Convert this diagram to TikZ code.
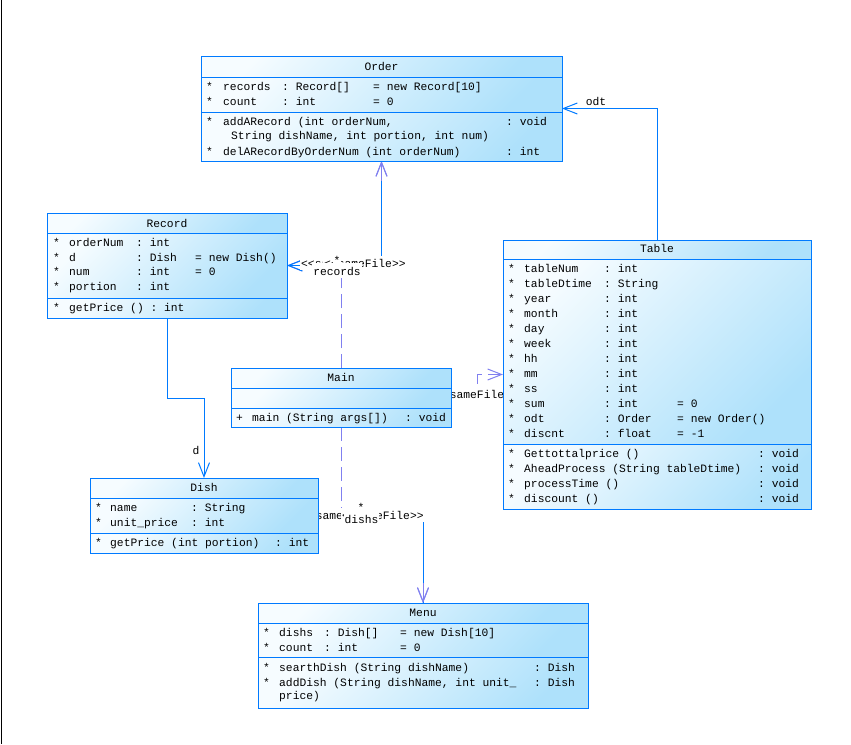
\documentclass[tikz,border=0pt]{standalone}
\usepackage{fontspec}
\setmonofont{Liberation Mono}
\usetikzlibrary{arrows.meta}
\definecolor{cborder}{RGB}{0,122,255}
\definecolor{cviolet}{RGB}{128,128,240}
\definecolor{cL}{RGB}{246,252,255}
\definecolor{cR}{RGB}{174,225,251}
\newcounter{tn}
\newcommand\T[3]{\stepcounter{tn}\node[txt] (t\arabic{tn}) at (#1,{#2+4}) {#3};}
\newcommand\Comp[4]{\shade[compfill] (#1,#2) rectangle (#3,#4);}
\newcommand\Sep[3]{\draw[sepline] (#1,#3) -- (#2,#3);}
\begin{document}
\begin{tikzpicture}[x=1pt,y=-1pt,
  mono/.style={font=\ttfamily\fontsize{11.3}{13}\selectfont},
  txt/.style={mono, inner sep=0pt, anchor=base west},
  ttl/.style={mono, inner sep=0pt, anchor=base},
  holder/.style={inner sep=0pt, outer sep=0pt, anchor=north west},
  framestyle/.style={draw=cborder, line width=1pt},
  compfill/.style={top color=cL, bottom color=cR, shading angle=45},
  sepline/.style={cborder, line width=1pt},
  tip/.style={-{Straight Barb[length=14pt,width=11pt]}},
  assoc/.style={cborder, line width=1pt, tip},
  dep/.style={cviolet, line width=1pt, dash pattern=on 14pt off 6pt, tip},
  deptip/.style={cviolet, line width=1pt, tip},
  lbl/.style={mono, fill=white, inner sep=1pt, text height=10pt, text depth=2pt},
  rlbl/.style={mono, fill=white, inner sep=1pt, text height=11.5pt, text depth=2pt}]
\useasboundingbox (0,0) rectangle (851,744);
\fill[white] (0,0) rectangle (851,744);
\draw[black, line width=1pt] (1.5,0) -- (1.5,744);

% class frames (placeholders)
\node[holder, minimum width=361pt, minimum height=105pt] (order) at (201,56) {};
\node[holder, minimum width=240pt, minimum height=105pt] (record) at (47,213) {};
\node[holder, minimum width=308pt, minimum height=269pt] (table) at (503,240) {};
\node[holder, minimum width=220pt, minimum height=59pt] (main) at (231,368) {};
\node[holder, minimum width=228pt, minimum height=75pt] (dish) at (90,478) {};
\node[holder, minimum width=330pt, minimum height=105pt] (menu) at (258,603) {};

% dependencies
\draw[dep] (main.north) |- (record.east);
\draw[dep] (main.north) |- (order.south |- record.east) -- (order.south);
\draw[dep] (main.south) |- (dish.east);
\draw[dep] (main.south) |- (menu.north |- dish.east) -- (menu.north);
\draw[dep] (main.east) -- ++(26,0) |- (table.west);

% associations
\draw[assoc] (table.north) |- (order.east);
\draw[assoc] (order.south) |- (record.east);
\draw[assoc] (record.south) -- ++(0,80) -| (dish.north);
\draw[assoc] (menu.north) |- (dish.east);
\draw[deptip] (order.south) ++(0,20) -- (order.south);
\draw[deptip] (menu.north) ++(0,-20) -- (menu.north);

% labels
\node[mono, inner sep=0pt, anchor=base] (lodt) at (596,105) {odt};
\node[mono, inner sep=0pt, anchor=base] (ld) at (196,454) {d};
\node[lbl, anchor=base west] (s1) at (300,267) {<<sameFile>>};
\node[lbl, anchor=base west] (s2) at (323,267) {<<sameFile>>};
\node[lbl, anchor=base] (m1) at (337,264) {*};
\node[rlbl, anchor=base] (r1) at (337,275) {records};
\node[lbl, anchor=base west] (s3) at (301,519) {<<sameFile>>};
\node[lbl, anchor=base west] (s4) at (341,519) {<<sameFile>>};
\node[lbl, anchor=base] (m2) at (361,511) {*};
\node[rlbl, anchor=base] (r2) at (361.5,523) {dishs};
\node[lbl, anchor=base] (s5) at (477,398) {<<sameFile>>};

% ---- Order
\Comp{201}{56}{562}{77}\Comp{201}{77}{562}{112}\Comp{201}{112}{562}{161}
\Sep{201}{562}{77}\Sep{201}{562}{112}
\draw[framestyle] (order.north west) rectangle (order.south east);
\node[ttl] (ordert) at (381.5,70) {Order};
\T{206}{86}{*}\T{223}{86}{records}\T{282}{86}{: Record[]}\T{373}{86}{= new Record[10]}
\T{206}{101}{*}\T{223}{101}{count}\T{282}{101}{: int}\T{373}{101}{= 0}
\T{206}{121}{*}\T{223}{121}{addARecord (int orderNum,}\T{506}{121}{: void}
\T{231}{135}{String dishName, int portion, int num)}
\T{206}{151}{*}\T{223}{151}{delARecordByOrderNum (int orderNum)}\T{506}{151}{: int}

% ---- Record
\Comp{47}{213}{287}{233}\Comp{47}{233}{287}{298}\Comp{47}{298}{287}{318}
\Sep{47}{287}{233}\Sep{47}{287}{298}
\draw[framestyle] (record.north west) rectangle (record.south east);
\node[ttl] (recordt) at (167,227) {Record};
\T{53}{242}{*}\T{69}{242}{orderNum}\T{136}{242}{: int}
\T{53}{257}{*}\T{69}{257}{d}\T{136}{257}{: Dish}\T{195}{257}{= new Dish()}
\T{53}{271}{*}\T{69}{271}{num}\T{136}{271}{: int}\T{195}{271}{= 0}
\T{53}{286}{*}\T{69}{286}{portion}\T{136}{286}{: int}
\T{53}{307}{*}\T{69}{307}{getPrice ()  : int}

% ---- Table
\Comp{503}{240}{811}{259}\Comp{503}{259}{811}{444}\Comp{503}{444}{811}{509}
\Sep{503}{811}{259}\Sep{503}{811}{444}
\draw[framestyle] (table.north west) rectangle (table.south east);
\node[ttl] (tablet) at (657,252) {Table};
\T{508}{268}{*}\T{524}{268}{tableNum}\T{604}{268}{: int}
\T{508}{283}{*}\T{524}{283}{tableDtime}\T{604}{283}{: String}
\T{508}{298}{*}\T{524}{298}{year}\T{604}{298}{: int}
\T{508}{313}{*}\T{524}{313}{month}\T{604}{313}{: int}
\T{508}{328}{*}\T{524}{328}{day}\T{604}{328}{: int}
\T{508}{343}{*}\T{524}{343}{week}\T{604}{343}{: int}
\T{508}{358}{*}\T{524}{358}{hh}\T{604}{358}{: int}
\T{508}{373}{*}\T{524}{373}{mm}\T{604}{373}{: int}
\T{508}{388}{*}\T{524}{388}{ss}\T{604}{388}{: int}
\T{508}{403}{*}\T{524}{403}{sum}\T{604}{403}{: int}\T{677}{403}{= 0}
\T{508}{418}{*}\T{524}{418}{odt}\T{604}{418}{: Order}\T{677}{418}{= new Order()}
\T{508}{433}{*}\T{524}{433}{discnt}\T{604}{433}{: float}\T{677}{433}{= -1}
\T{508}{453}{*}\T{524}{453}{Gettottalprice ()}\T{758}{453}{: void}
\T{508}{468}{*}\T{524}{468}{AheadProcess (String tableDtime)}\T{758}{468}{: void}
\T{508}{483}{*}\T{524}{483}{processTime ()}\T{758}{483}{: void}
\T{508}{498}{*}\T{524}{498}{discount ()}\T{758}{498}{: void}

% ---- Main
\Comp{231}{368}{451}{388}\Comp{231}{388}{451}{408}\Comp{231}{408}{451}{427}
\Sep{231}{451}{388}\Sep{231}{451}{408}
\draw[framestyle] (main.north west) rectangle (main.south east);
\node[ttl] (maint) at (341,381) {Main};
\T{236}{417}{+}\T{252}{417}{main (String args[])}\T{405}{417}{: void}

% ---- Dish
\Comp{90}{478}{318}{498}\Comp{90}{498}{318}{533}\Comp{90}{533}{318}{553}
\Sep{90}{318}{498}\Sep{90}{318}{533}
\draw[framestyle] (dish.north west) rectangle (dish.south east);
\node[ttl] (disht) at (204,491) {Dish};
\T{95}{507}{*}\T{110}{507}{name}\T{191}{507}{: String}
\T{95}{522}{*}\T{110}{522}{unit\_price}\T{191}{522}{: int}
\T{95}{542}{*}\T{110}{542}{getPrice (int portion)}\T{275}{542}{: int}

% ---- Menu
\Comp{258}{603}{588}{623}\Comp{258}{623}{588}{657}\Comp{258}{657}{588}{708}
\Sep{258}{588}{623}\Sep{258}{588}{657}
\draw[framestyle] (menu.north west) rectangle (menu.south east);
\node[ttl] (menut) at (423,616) {Menu};
\T{263}{632}{*}\T{279}{632}{dishs}\T{324}{632}{: Dish[]}\T{400}{632}{= new Dish[10]}
\T{263}{647}{*}\T{279}{647}{count}\T{324}{647}{: int}\T{400}{647}{= 0}
\T{263}{667}{*}\T{279}{667}{searthDish (String dishName)}\T{534}{667}{: Dish}
\T{263}{682}{*}\T{279}{682}{addDish (String dishName, int unit\_}\T{534}{682}{: Dish}
\T{279}{695}{price)}
\end{tikzpicture}
\end{document}
